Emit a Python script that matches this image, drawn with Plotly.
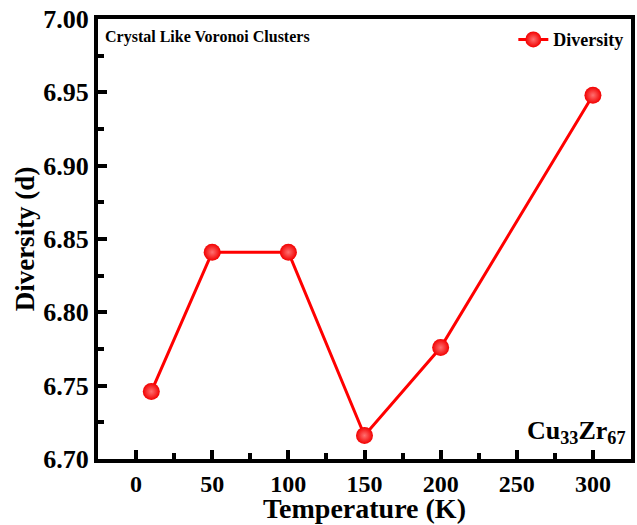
import plotly.graph_objects as go

temperature = [10, 50, 100, 150, 200, 300]
diversity = [6.746, 6.841, 6.841, 6.716, 6.776, 6.948]
series_name = "Diversity"
x_title = "Temperature (K)"
y_title = "Diversity (d)"
x_ticks = [0, 50, 100, 150, 200, 250, 300]
y_ticks = [6.70, 6.75, 6.80, 6.85, 6.90, 6.95, 7.00]

FONT = "Liberation Serif"

fig = go.Figure()
fig.add_trace(go.Scatter(
    x=temperature, y=diversity, name="<b>" + series_name + "</b>", mode="lines+markers",
    line=dict(color="#ff0000", width=3),
    marker=dict(size=17, color="#f20000",
                gradient=dict(type="radial", color="#ff7070"),
                line=dict(width=0)),
))

axis_common = dict(
    showline=True, linewidth=4, linecolor="black", mirror=True,
    ticks="inside", ticklen=9, tickwidth=4, tickcolor="black",
    showgrid=False, zeroline=False, automargin=False,
)

fig.update_xaxes(
    range=[-25, 325], tickvals=x_ticks,
    ticktext=["<b>%d</b>" % v for v in x_ticks],
    tickfont=dict(family=FONT, size=24, color="black"),
    minor=dict(ticks="inside", ticklen=6, tickwidth=4, tickcolor="black", dtick=25, tick0=0),
    **axis_common,
)
fig.update_yaxes(
    range=[6.70, 7.00], tickvals=y_ticks,
    ticktext=["<b>%.2f</b>" % v for v in y_ticks],
    tickfont=dict(family=FONT, size=26, color="black"),
    minor=dict(ticks="inside", ticklen=6, tickwidth=4, tickcolor="black", dtick=0.025, tick0=6.70),
    title=dict(text="<b>" + y_title + "</b>", font=dict(family=FONT, size=27, color="black"), standoff=2),
    **axis_common,
)

fig.add_annotation(
    text="<b>" + x_title + "</b>", xref="paper", yref="paper",
    x=0.5, y=-0.113, xanchor="center", yanchor="middle", showarrow=False,
    font=dict(family=FONT, size=28, color="black"),
)
fig.add_annotation(
    text="<b>Crystal Like Voronoi Clusters</b>", xref="paper", yref="paper",
    x=0.01, y=0.985, xanchor="left", yanchor="top", showarrow=False,
    font=dict(family=FONT, size=16, color="black"),
)
fig.add_annotation(
    text="<b>Cu<sub>33</sub>Zr<sub>67</sub></b>", xref="paper", yref="paper",
    x=0.995, y=0.02, xanchor="right", yanchor="bottom", showarrow=False,
    font=dict(family=FONT, size=26, color="black"),
)

fig.update_layout(
    width=637, height=525,
    margin=dict(l=98, r=6, t=19, b=66),
    paper_bgcolor="white", plot_bgcolor="white",
    showlegend=True,
    legend=dict(x=0.995, y=0.995, xanchor="right", yanchor="top",
                bgcolor="rgba(0,0,0,0)",
                font=dict(family=FONT, size=18, color="black")),
)

fig.write_html("out.html")
